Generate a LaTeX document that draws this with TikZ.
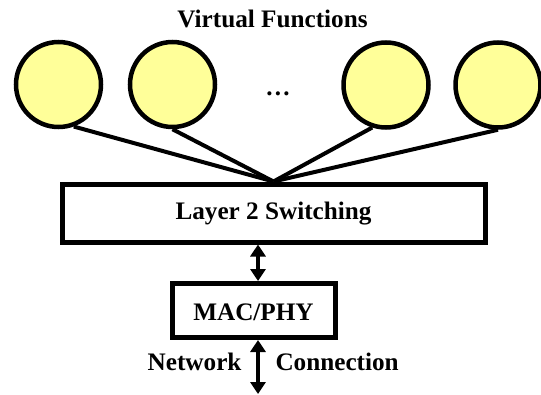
\documentclass[tikz,border=0pt]{standalone}
\usepackage{fontspec}
\setmainfont{Liberation Serif}
\usepackage{tikz}
\usetikzlibrary{arrows.meta, positioning}
\definecolor{vfyellow}{RGB}{255,255,153}

\begin{document}
\begin{tikzpicture}[x=1pt, y=-1pt,
  every node/.style={font=\fontsize{25.2pt}{30pt}\selectfont\bfseries},
  vfunc/.style={circle, draw, line width=4.5pt, fill=vfyellow, minimum size=85pt, inner sep=0pt},
  layerbox/.style={draw, line width=5pt, inner sep=0pt},
  spoke/.style={line width=4pt},
  dbl/.style={{Triangle[width=15pt,length=12pt]}-{Triangle[width=15pt,length=12pt]}, line width=3.5pt}]
  \useasboundingbox (0,0) rectangle (541,394);

  \node[anchor=base] (title) at (272.5,27) {Virtual Functions};
  \node[vfunc] (vf1) at (58.5,84.5) {};
  \node[vfunc] (vf2) at (172.5,84.5) {};
  \node[vfunc] (vf3) at (386,85) {};
  \node[vfunc] (vf4) at (498,85) {};
  \node[anchor=base] (dots) at (278,95) {…};

  \node[layerbox, minimum width=423pt, minimum height=58pt,
        text height=18pt, text depth=6pt] (l2) at (273.5,213) {Layer 2 Switching};
  \node[layerbox, minimum width=163pt, minimum height=54pt,
        text height=22pt, text depth=2pt] (mac) at (253.5,310.5) {MAC/PHY};
  \coordinate (net) at (258,394);

  % spokes to the switch
  \draw[spoke] (vf1.-70) -- (l2.north);
  \draw[spoke] (vf2.south) -- (l2.north);
  \draw[spoke] (vf3.-108) -- (l2.north);
  \draw[spoke] (vf4.south) -- (l2.north);

  \draw[dbl] ([xshift=4.5pt]mac.north |- l2.south) -- ([xshift=4.5pt]mac.north);
  \draw[dbl] ([xshift=4.5pt]mac.south) -- (net);

  \node[anchor=base east] (netw) at (245,370) {Network};
  \node[anchor=base west] (conn) at (272,370) {Connection};
\end{tikzpicture}
\end{document}
